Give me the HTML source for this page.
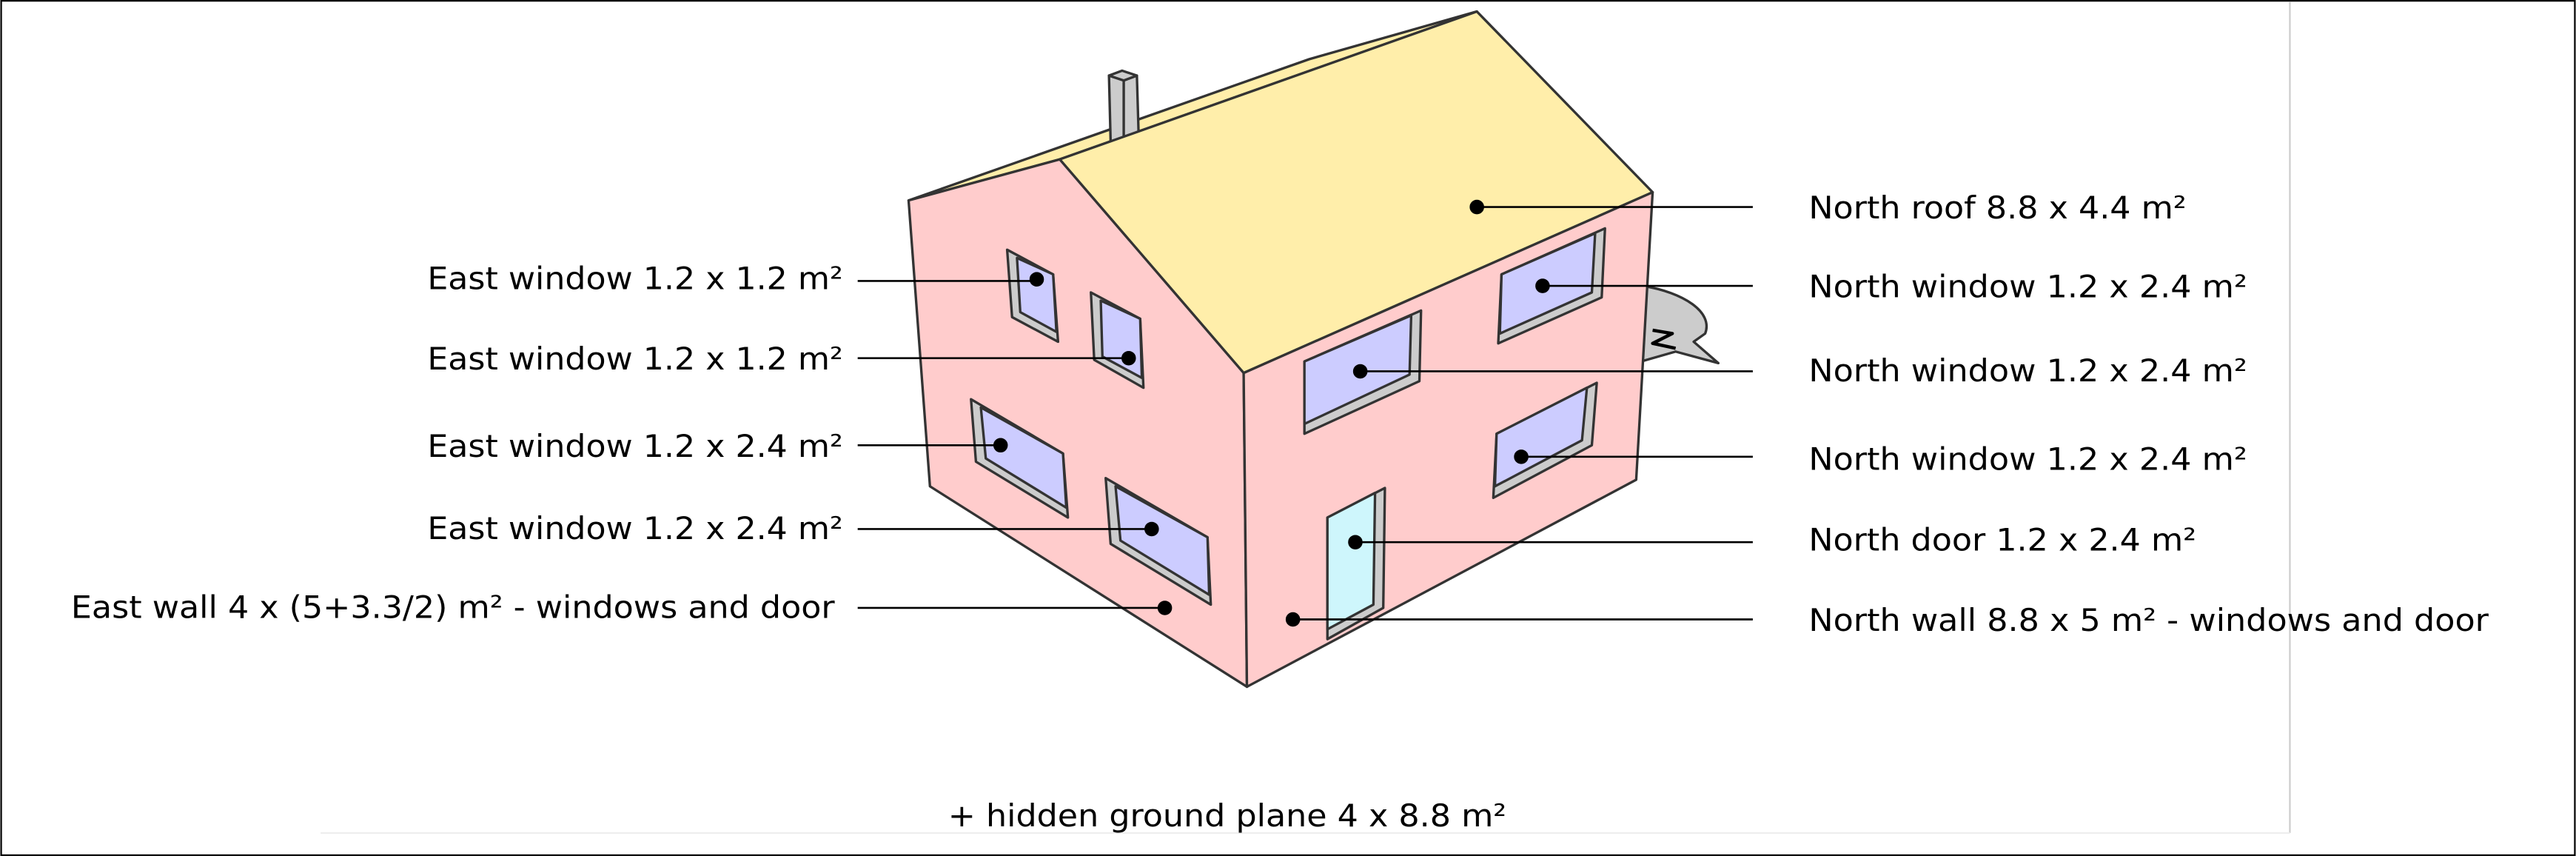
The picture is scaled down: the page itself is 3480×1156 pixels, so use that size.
<!DOCTYPE html>
<html><head><meta charset="utf-8"><style>
html,body{margin:0;padding:0;background:#fff;}
svg{display:block;}
text{font-family:"DejaVu Sans","Liberation Sans",sans-serif;font-size:19px;fill:#000;}
</style></head><body>
<svg width="3480" height="1156" viewBox="0 0 1568 521" xmlns="http://www.w3.org/2000/svg">
<rect x="0.5" y="0.5" width="1567" height="520" fill="#fff" stroke="#000" stroke-width="1"/>
<line x1="1394" y1="1" x2="1394" y2="507" stroke="#ccc" stroke-width="1"/>
<line x1="195" y1="507" x2="1394" y2="507" stroke="#eee" stroke-width="1"/>

<g stroke="#333" stroke-width="1.5" stroke-linejoin="round">
<path d="M1000,174 C1025,178 1043,190 1038,203 L1031,208 L1046,221 L1020,214 L999,220 Z" fill="#ccc"/>
<path d="M1006,201 L1018,203 L1006,209 L1020,212" fill="none" stroke="#000" stroke-width="2"/>
<path d="M553,122 L797,36 L899,7 L645,97 Z" fill="#fea"/>
<g>
<polygon points="675,46 684,49 684,86 676,86" fill="#ccc"/>
<polygon points="684,49 692,46 693,80 684,86" fill="#ccc"/>
<polygon points="675,46 683,43 692,46 684,49" fill="#ccc"/>
</g>
<polygon points="645,97 899,7 1006,117 757,227" fill="#fea"/>
<polygon points="553,122 645,97 757,227 759,418 566,296" fill="#fcc"/>
<polygon points="757,227 1006,117 996,292 759,418" fill="#fcc"/>

<g><polygon points="613,152 641,167 644,208 616,193" fill="#ccc"/><polygon points="619,157 641,167 643,202 621,190" fill="#ccf"/></g>
<g><polygon points="664,178 694,194 696,236 666,219" fill="#ccc"/><polygon points="670,183 694,194 695,230 671,217" fill="#ccf"/></g>
<g><polygon points="591,243 647,276 650,315 594,281" fill="#ccc"/><polygon points="597,248 647,276 649,309 600,279" fill="#ccf"/></g>
<g><polygon points="673,291 735,327 737,368 676,331" fill="#ccc"/><polygon points="679,296 735,327 736,362 682,329" fill="#ccf"/></g>
<g><polygon points="914,167 977,139 975,181 912,209" fill="#ccc"/><polygon points="914,167 971,142 969,178 913,203" fill="#ccf"/></g>
<g><polygon points="794,220 865,189 864,232 794,264" fill="#ccc"/><polygon points="794,220 859,192 858,228 794,258" fill="#ccf"/></g>
<g><polygon points="911,264 972,233 969,271 909,303" fill="#ccc"/><polygon points="911,264 966,236 963,268 910,296" fill="#ccf"/></g>
<g><polygon points="808,315 843,297 842,370 808,389" fill="#ccc"/><polygon points="808,315 837,300 836,368 808,383" fill="#cef6fc"/></g>
</g>

<g stroke="#000" stroke-width="1.2" fill="#000">
<g><line x1="899" y1="126" x2="1067" y2="126"/><circle cx="899" cy="126" r="3.8"/></g>
<g><line x1="939" y1="174" x2="1067" y2="174"/><circle cx="939" cy="174" r="3.8"/></g>
<g><line x1="828" y1="226" x2="1067" y2="226"/><circle cx="828" cy="226" r="3.8"/></g>
<g><line x1="926" y1="278" x2="1067" y2="278"/><circle cx="926" cy="278" r="3.8"/></g>
<g><line x1="825" y1="330" x2="1067" y2="330"/><circle cx="825" cy="330" r="3.8"/></g>
<g><line x1="787" y1="377" x2="1067" y2="377"/><circle cx="787" cy="377" r="3.8"/></g>
<g><line x1="522" y1="171" x2="631" y2="171"/><circle cx="631" cy="170" r="3.8"/></g>
<g><line x1="522" y1="218" x2="687" y2="218"/><circle cx="687" cy="218" r="3.8"/></g>
<g><line x1="522" y1="271" x2="609" y2="271"/><circle cx="609" cy="271" r="3.8"/></g>
<g><line x1="522" y1="322" x2="701" y2="322"/><circle cx="701" cy="322" r="3.8"/></g>
<g><line x1="522" y1="370" x2="709" y2="370"/><circle cx="709" cy="370" r="3.8"/></g>
</g>

<text x="1101" y="133" textLength="230" lengthAdjust="spacingAndGlyphs">North roof 8.8 x 4.4 m²</text>
<text x="1101" y="181" textLength="267" lengthAdjust="spacingAndGlyphs">North window 1.2 x 2.4 m²</text>
<text x="1101" y="232" textLength="267" lengthAdjust="spacingAndGlyphs">North window 1.2 x 2.4 m²</text>
<text x="1101" y="286" textLength="267" lengthAdjust="spacingAndGlyphs">North window 1.2 x 2.4 m²</text>
<text x="1101" y="335" textLength="236" lengthAdjust="spacingAndGlyphs">North door 1.2 x 2.4 m²</text>
<text x="1101" y="384" textLength="414" lengthAdjust="spacingAndGlyphs">North wall 8.8 x 5 m² - windows and door</text>
<text x="260" y="176" textLength="253" lengthAdjust="spacingAndGlyphs">East window 1.2 x 1.2 m²</text>
<text x="260" y="225" textLength="253" lengthAdjust="spacingAndGlyphs">East window 1.2 x 1.2 m²</text>
<text x="260" y="278" textLength="253" lengthAdjust="spacingAndGlyphs">East window 1.2 x 2.4 m²</text>
<text x="260" y="328" textLength="253" lengthAdjust="spacingAndGlyphs">East window 1.2 x 2.4 m²</text>
<text x="43" y="376" textLength="465" lengthAdjust="spacingAndGlyphs">East wall 4 x (5+3.3/2) m² - windows and door</text>
<text x="577" y="503" textLength="340" lengthAdjust="spacingAndGlyphs">+ hidden ground plane 4 x 8.8 m²</text>
</svg>
</body></html>
